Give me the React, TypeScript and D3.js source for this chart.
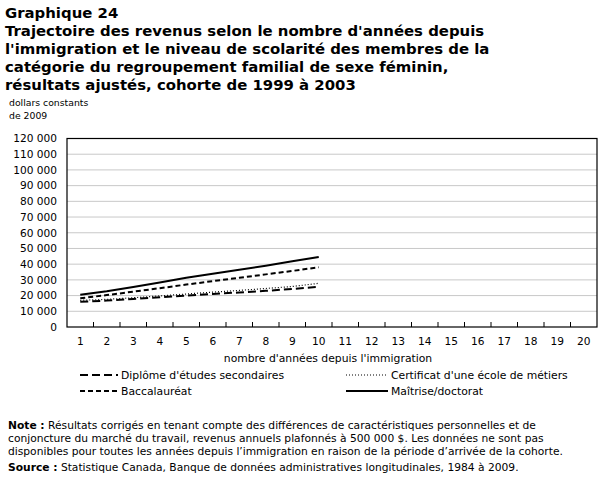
import * as d3 from "d3";

const years = d3.range(1, 21).map(String);
const yTicks = d3.range(0, 120001, 10000);

const seriesNames = [
  "Diplôme d'études secondaires",
  "Certificat d'une école de métiers",
  "Baccalauréat",
  "Maîtrise/doctorat",
];

// values for years 1..10 (no data after year 10)
const secondaire = [16000, 16800, 17800, 18900, 20000, 21000, 22000, 23000, 24200, 25600];
const certificat = [17000, 17600, 18600, 19800, 21000, 22200, 23300, 24500, 25800, 27800];
const baccalaureat = [18300, 20300, 22500, 24700, 27000, 29200, 31300, 33500, 35700, 38000];
const maitrise = [20500, 22800, 25500, 28300, 31300, 33900, 36400, 39000, 41800, 44600];

const styles = [
  { dash: "8,4", width: 2 },
  { dash: "1,2", width: 1.2 },
  { dash: "5,3", width: 2 },
  { dash: null, width: 2 },
];

const titleLines = [
  "Graphique 24",
  "Trajectoire des revenus selon le nombre d'années depuis",
  "l'immigration et le niveau de scolarité des membres de la",
  "catégorie du regroupement familial de sexe féminin,",
  "résultats ajustés, cohorte de 1999 à 2003",
];

const noteLines = [
  "conjoncture du marché du travail, revenus annuels plafonnés à 500 000 $.  Les données ne sont pas",
  "disponibles pour toutes les années depuis l’immigration en raison de la période d’arrivée de la cohorte.",
];

const fmt = (v: number) => d3.format(",")(v).replace(/,/g, " ");

export default function App() {
  const W = 607;
  const H = 493;
  const left = 67;
  const right = 597;
  const top = 138.5;
  const bottom = 327;
  const font = "DejaVu Sans, Verdana, sans-serif";

  const x = d3.scaleBand().domain(years).range([left, right]);
  const y = d3.scaleLinear().domain([0, 120000]).range([bottom, top]);
  const data = [secondaire, certificat, baccalaureat, maitrise];

  const line = d3
    .line<number>()
    .x((_, i) => (x(years[i]) ?? 0) + x.bandwidth() / 2)
    .y((d) => y(d));

  const legend = [
    { i: 0, lx: 80, ly: 375, len: 38 },
    { i: 1, lx: 346, ly: 375, len: 42 },
    { i: 2, lx: 80, ly: 391, len: 38 },
    { i: 3, lx: 346, ly: 391, len: 42 },
  ];

  return (
    <svg
      width={W}
      height={H}
      style={{ position: "absolute", left: 0, top: 0, background: "#fff" }}
      fontFamily={font}
    >
      {/* title */}
      {titleLines.map((t, i) => (
        <text key={i} x={5} y={18 + i * 18} fontSize={14.9} fontWeight="bold" fill="#000">
          {t}
        </text>
      ))}
      <text x={9} y={106} fontSize={9.3} fill="#000">dollars constants</text>
      <text x={9} y={119} fontSize={9.3} fill="#000">de 2009</text>

      {/* grid */}
      {yTicks.slice(1, -1).map((v) => (
        <line key={v} x1={left} x2={right} y1={y(v)} y2={y(v)} stroke="#c8c8c8" strokeWidth={1} />
      ))}
      {yTicks.map((v) => (
        <text key={v} x={57} y={y(v)} dy="0.36em" textAnchor="end" fontSize={10.6} fill="#000">
          {fmt(v)}
        </text>
      ))}

      {/* x ticks */}
      {years.slice(1).map((yr) => (
        <line key={yr} x1={x(yr)} x2={x(yr)} y1={bottom} y2={bottom - 5} stroke="#000" />
      ))}
      {years.map((yr) => (
        <text
          key={yr}
          x={(x(yr) ?? 0) + x.bandwidth() / 2}
          y={345}
          textAnchor="middle"
          fontSize={10.6}
          fill="#000"
        >
          {yr}
        </text>
      ))}
      <rect x={left} y={top} width={right - left} height={bottom - top} fill="none" stroke="#000" strokeWidth={1.2} />
      <text x={328} y={362} textAnchor="middle" fontSize={10.8} fill="#000">
        nombre d'années depuis l'immigration
      </text>

      {/* series */}
      {data.map((d, i) => (
        <path
          key={i}
          d={line(d) ?? ""}
          fill="none"
          stroke="#000"
          strokeWidth={styles[i].width}
          strokeDasharray={styles[i].dash ?? undefined}
        />
      ))}

      {/* legend */}
      {legend.map(({ i, lx, ly, len }) => (
        <g key={i}>
          <line
            x1={lx}
            x2={lx + len}
            y1={ly}
            y2={ly}
            stroke="#000"
            strokeWidth={styles[i].width}
            strokeDasharray={styles[i].dash ?? undefined}
          />
          <text x={lx + len + 3} y={ly} dy="0.36em" fontSize={10.8} fill="#000">
            {seriesNames[i]}
          </text>
        </g>
      ))}

      {/* notes */}
      <text x={8} y={429} fontSize={10.7} fill="#000">
        <tspan fontWeight="bold">Note :</tspan> Résultats corrigés en tenant compte des différences de caractéristiques personnelles et de
      </text>
      {noteLines.map((t, i) => (
        <text key={i} x={8} y={442 + i * 13} fontSize={10.7} fill="#000">
          {t}
        </text>
      ))}
      <text x={8} y={471} fontSize={10.7} fill="#000">
        <tspan fontWeight="bold">Source :</tspan> Statistique Canada, Banque de données administratives longitudinales, 1984 à 2009.
      </text>
    </svg>
  );
}
